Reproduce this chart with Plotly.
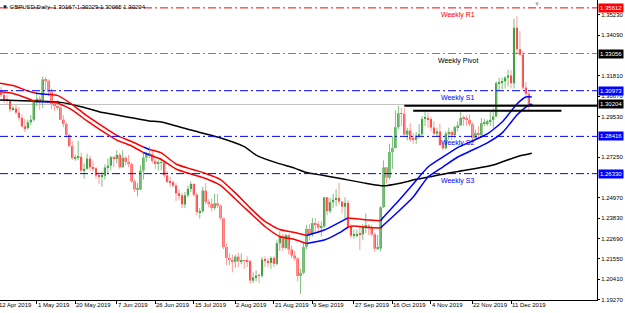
import plotly.graph_objects as go
import pandas as pd

# ---------------- data ----------------
dates = pd.bdate_range("2019-04-12", "2019-12-20")

opens = [
    # Apr 12 - Apr 30
    1.3070, 1.3087, 1.3073, 1.3046, 1.3041, 1.2993, 1.2998, 1.2975, 1.2945, 1.2898, 1.2888, 1.2920, 1.2935,
    # May
    1.3038, 1.3053, 1.3042, 1.3160, 1.3153, 1.3091, 1.3023, 1.3011, 1.3004, 1.2935, 1.2911, 1.2850, 1.2787,
    1.2720, 1.2722, 1.2727, 1.2650, 1.2660, 1.2717, 1.2668, 1.2663, 1.2622, 1.2618,
    # Jun
    1.2621, 1.2667, 1.2678, 1.2725, 1.2715, 1.2738, 1.2669, 1.2722, 1.2699, 1.2686, 1.2590, 1.2545, 1.2545,
    1.2650, 1.2723, 1.2742, 1.2743, 1.2704, 1.2687, 1.2693,
    # Jul
    1.2696, 1.2623, 1.2587, 1.2585, 1.2566, 1.2523, 1.2512, 1.2461, 1.2512, 1.2547, 1.2575, 1.2515, 1.2418,
    1.2421, 1.2538, 1.2475, 1.2464, 1.2440, 1.2467, 1.2453, 1.2383, 1.2222, 1.2161,
    # Aug
    1.2150, 1.2139, 1.2168, 1.2142, 1.2146, 1.2144, 1.2143, 1.2034, 1.2052, 1.2062, 1.2061, 1.2151, 1.2144,
    1.2133, 1.2161, 1.2128, 1.2243, 1.2278, 1.2217, 1.2288, 1.2208, 1.2174,
    # Sep
    1.2158, 1.2060, 1.2078, 1.2222, 1.2323, 1.2291, 1.2356, 1.2350, 1.2330, 1.2337, 1.2500, 1.2423, 1.2473,
    1.2487, 1.2497, 1.2476, 1.2448, 1.2469, 1.2333, 1.2286, 1.2288,
    # Oct
    1.2295, 1.2293, 1.2339, 1.2342, 1.2331, 1.2293, 1.2213, 1.2214, 1.2445, 1.2668, 1.2610, 1.2754, 1.2776,
    1.2893, 1.2971, 1.2968, 1.2852, 1.2874, 1.2824, 1.2823, 1.2846, 1.2854, 1.2939,
    # Nov
    1.2945, 1.2938, 1.2891, 1.2857, 1.2869, 1.2793, 1.2775, 1.2857, 1.2866, 1.2849, 1.2893, 1.2903, 1.2945,
    1.2944, 1.2935, 1.2910, 1.2831, 1.2860, 1.2850, 1.2916, 1.2916,
    # Dec
    1.2926, 1.2934, 1.2953, 1.3140, 1.3146, 1.3150, 1.3170, 1.3183, 1.3139, 1.3450, 1.3330, 1.3300, 1.3115,
    1.3080, 1.30167,
]
highs = [
    1.3132, 1.3120, 1.3090, 1.3073, 1.3050, 1.3012, 1.3020, 1.3006, 1.2965, 1.2940, 1.2935, 1.2960, 1.3050,
    1.3080, 1.3069, 1.3176, 1.3175, 1.3160, 1.3110, 1.3028, 1.3045, 1.3009, 1.2960, 1.2920, 1.2855, 1.2815,
    1.2740, 1.2815, 1.2750, 1.2690, 1.2745, 1.2735, 1.2705, 1.2670, 1.2640, 1.2645,
    1.2685, 1.2716, 1.2734, 1.2730, 1.2763, 1.2750, 1.2763, 1.2730, 1.2738, 1.2694, 1.2600, 1.2580, 1.2680,
    1.2750, 1.2754, 1.2783, 1.2765, 1.2720, 1.2710, 1.2720,
    1.2712, 1.2647, 1.2615, 1.2595, 1.2580, 1.2543, 1.2525, 1.2530, 1.2565, 1.2590, 1.2580, 1.2525, 1.2440,
    1.2560, 1.2580, 1.2490, 1.2495, 1.2520, 1.2520, 1.2460, 1.2385, 1.2240, 1.2186,
    1.2180, 1.2180, 1.2190, 1.2186, 1.2150, 1.2170, 1.2150, 1.2080, 1.2090, 1.2075, 1.2165, 1.2170, 1.2160,
    1.2170, 1.2170, 1.2260, 1.2310, 1.2295, 1.2295, 1.2295, 1.2230, 1.2200,
    1.2165, 1.2100, 1.2250, 1.2345, 1.2350, 1.2384, 1.2384, 1.2367, 1.2365, 1.2500, 1.2500, 1.2497, 1.2520,
    1.2546, 1.2582, 1.2480, 1.2500, 1.2485, 1.2350, 1.2320, 1.2320,
    1.2340, 1.2350, 1.2410, 1.2350, 1.2345, 1.2300, 1.2290, 1.2450, 1.2707, 1.2668, 1.2800, 1.2843, 1.2988,
    1.3012, 1.3000, 1.3000, 1.2890, 1.2915, 1.2860, 1.2865, 1.2910, 1.2955, 1.2978,
    1.2975, 1.2950, 1.2927, 1.2890, 1.2913, 1.2815, 1.2870, 1.2890, 1.2875, 1.2900, 1.2925, 1.2985, 1.2958,
    1.2958, 1.2965, 1.2920, 1.2880, 1.2900, 1.2945, 1.2940, 1.2935,
    1.2980, 1.3000, 1.3150, 1.3170, 1.3170, 1.3180, 1.3215, 1.3214, 1.3500, 1.3514, 1.3430, 1.3320, 1.3145,
    1.3090, 1.30229,
]
lows = [
    1.3060, 1.3060, 1.3030, 1.3025, 1.2978, 1.2985, 1.2965, 1.2930, 1.2890, 1.2866, 1.2880, 1.2905, 1.2925,
    1.3010, 1.2990, 1.3000, 1.3100, 1.3066, 1.2995, 1.2985, 1.2990, 1.2934, 1.2893, 1.2835, 1.2780, 1.2710,
    1.2705, 1.2708, 1.2640, 1.2605, 1.2655, 1.2650, 1.2645, 1.2605, 1.2575, 1.2559,
    1.2600, 1.2630, 1.2650, 1.2670, 1.2690, 1.2660, 1.2665, 1.2680, 1.2670, 1.2580, 1.2530, 1.2506, 1.2540,
    1.2600, 1.2700, 1.2720, 1.2690, 1.2660, 1.2650, 1.2652,
    1.2610, 1.2580, 1.2559, 1.2554, 1.2480, 1.2485, 1.2440, 1.2440, 1.2500, 1.2530, 1.2505, 1.2400, 1.2382,
    1.2415, 1.2460, 1.2445, 1.2420, 1.2430, 1.2440, 1.2375, 1.2210, 1.2120, 1.2120,
    1.2080, 1.2105, 1.2110, 1.2125, 1.2100, 1.2110, 1.2015, 1.2020, 1.2030, 1.2020, 1.2050, 1.2110, 1.2110,
    1.2100, 1.2110, 1.2120, 1.2200, 1.2200, 1.2210, 1.2180, 1.2160, 1.2145,
    1.2030, 1.1959, 1.2070, 1.2210, 1.2260, 1.2280, 1.2305, 1.2300, 1.2280, 1.2330, 1.2400, 1.2410, 1.2440,
    1.2450, 1.2460, 1.2410, 1.2380, 1.2320, 1.2270, 1.2270, 1.2275,
    1.2205, 1.2260, 1.2300, 1.2290, 1.2280, 1.2195, 1.2205, 1.2200, 1.2440, 1.2580, 1.2600, 1.2660, 1.2775,
    1.2880, 1.2900, 1.2845, 1.2820, 1.2810, 1.2800, 1.2800, 1.2830, 1.2845, 1.2900,
    1.2890, 1.2870, 1.2850, 1.2840, 1.2790, 1.2765, 1.2770, 1.2820, 1.2820, 1.2830, 1.2870, 1.2900, 1.2900,
    1.2900, 1.2900, 1.2810, 1.2820, 1.2825, 1.2845, 1.2900, 1.2900,
    1.2900, 1.2890, 1.2950, 1.3095, 1.3105, 1.3110, 1.3120, 1.3110, 1.3110, 1.3300, 1.3290, 1.3100, 1.3055,
    1.2990, 1.30065,
]
closes = opens[1:] + [1.30204]

tick_dates = ["2019-04-12", "2019-05-01", "2019-05-20", "2019-06-07", "2019-06-26", "2019-07-15",
              "2019-08-02", "2019-08-21", "2019-09-09", "2019-09-27", "2019-10-16", "2019-11-04",
              "2019-11-22", "2019-12-11"]
tick_text = ["12 Apr 2019", "1 May 2019", "20 May 2019", "7 Jun 2019", "26 Jun 2019", "15 Jul 2019",
             "2 Aug 2019", "21 Aug 2019", "9 Sep 2019", "27 Sep 2019", "16 Oct 2019", "4 Nov 2019",
             "22 Nov 2019", "11 Dec 2019"]

# channel (two trend lines) at bar positions
ch_idx = [0, 5, 10, 12.5, 15, 17.5, 20, 25, 30, 35, 40, 45, 49, 51, 55, 60, 65, 70, 75, 80, 85, 90, 95,
          100, 104, 110, 115, 118, 120, 125, 129, 130, 135, 140, 145, 150, 155, 160, 165, 170, 175, 178, 180]
ch_upper = [1.3141, 1.3126, 1.3096, 1.3085, 1.3079, 1.3076, 1.3071, 1.3020, 1.2956, 1.2900, 1.2847, 1.2813,
            1.2782, 1.2768, 1.2749, 1.2687, 1.2659, 1.2634, 1.2600, 1.2525, 1.2441, 1.2365, 1.2320, 1.2303,
            1.2287, 1.2317, 1.2359, 1.2385, 1.2382, 1.2373, 1.2369, 1.2390, 1.2480, 1.2575, 1.2670, 1.2726,
            1.2779, 1.2816, 1.2855, 1.2922, 1.3023, 1.3062, 1.3062]
ch_lower = [1.3092, 1.3082, 1.3054, 1.3036, 1.3036, 1.3034, 1.3029, 1.2989, 1.2928, 1.2872, 1.2821, 1.2788,
            1.2751, 1.2737, 1.2712, 1.2659, 1.2631, 1.2606, 1.2567, 1.2491, 1.2413, 1.2337, 1.2281, 1.2264,
            1.2242, 1.2261, 1.2301, 1.2334, 1.2340, 1.2331, 1.2329, 1.2345, 1.2421, 1.2502, 1.2614, 1.2670,
            1.2726, 1.2765, 1.2805, 1.2861, 1.2961, 1.3006, 1.3023]
trend_breaks = [0, 12.5, 17.5, 49, 51, 104, 118, 129, 180]
trend_colors = ["#FF0000", "#0000FF", "#FF0000", "#0000FF", "#FF0000", "#0000FF", "#FF0000", "#0000FF"]

# slow moving average (black)
ma_idx = [0, 11, 21, 28, 34, 40, 46, 51, 55, 65, 74, 83, 87, 94, 100, 104, 109, 115, 124, 130, 136, 141,
          147, 152, 158, 167, 175, 180]
ma_val = [1.3045, 1.3040, 1.3032, 1.3008, 1.2980, 1.2961, 1.2943, 1.2928, 1.2922, 1.2877, 1.2838, 1.2784,
          1.2737, 1.2693, 1.2664, 1.2639, 1.2625, 1.2607, 1.2579, 1.2565, 1.2581, 1.2601, 1.2620, 1.2637,
          1.2653, 1.2681, 1.2728, 1.2747]

pivot_levels = [1.35612, 1.33056, 1.30973, 1.28416, 1.26330]
pivot_names = ["Weekly R1", "Weekly Pivot", "Weekly S1", "Weekly S2", "Weekly S3"]
pivot_colors = ["#FF0000", "#808080", "#0000FF", "#0000FF", "#0000FF"]
pivot_text_colors = ["#FF0000", "#000000", "#0000FF", "#0000FF", "#0000FF"]
pivot_box_colors = ["#FF0000", "#000000", "#0000FF", "#0000FF", "#0000FF"]

bid_price = 1.30204
user_lines = [(137, 202.5, 1.3013), (140, 190, 1.2985)]

# price scale labels (those hidden under the level boxes are omitted)
y_ticks = [1.35230, 1.34090, 1.31810, 1.30670, 1.29530, 1.27250,
           1.24970, 1.23830, 1.22690, 1.21550, 1.20410, 1.19270]

title_text = "GBPUSD,Daily  1.30167 1.30229 1.30065 1.30204"

# ---------------- figure ----------------
n = len(dates)
assert len(opens) == n and len(highs) == n and len(lows) == n
idx = list(range(n))
FONT = "Liberation Sans"
X_RANGE = [0.62, 202.0]

fig = go.Figure()

# wicks
for bull, col in [(True, "#7FC07F"), (False, "#FF9A9A")]:
    xs, ys = [], []
    for i in idx:
        if (closes[i] >= opens[i]) == bull:
            xs += [i, i, None]
            ys += [lows[i], highs[i], None]
    fig.add_trace(go.Scatter(x=xs, y=ys, mode="lines", line=dict(color=col, width=1),
                             hoverinfo="skip", showlegend=False))

# bodies
body_base = [min(o, c) for o, c in zip(opens, closes)]
body_h = [max(abs(c - o), 0.0004) for o, c in zip(opens, closes)]
body_col = ["#008000" if c >= o else "#FF0000" for o, c in zip(opens, closes)]
fig.add_trace(go.Bar(x=idx, y=body_h, base=body_base, width=0.7, marker=dict(color=body_col, line=dict(width=0)),
                     hoverinfo="skip", showlegend=False))

# slow MA
fig.add_trace(go.Scatter(x=ma_idx, y=ma_val, mode="lines", line=dict(color="#000000", width=1.5, shape="spline", smoothing=0.6),
                         hoverinfo="skip", showlegend=False))

# channel lines coloured by trend
for k in range(len(trend_colors)):
    a, b = trend_breaks[k], trend_breaks[k + 1]
    sel = [j for j, v in enumerate(ch_idx) if a <= v <= b]
    for arr in (ch_upper, ch_lower):
        fig.add_trace(go.Scatter(x=[ch_idx[j] for j in sel], y=[arr[j] for j in sel], mode="lines",
                                 line=dict(color=trend_colors[k], width=1.5, shape="spline", smoothing=0.5),
                                 hoverinfo="skip", showlegend=False))

shapes = []
# bid line
shapes.append(dict(type="line", xref="paper", x0=0, x1=1, yref="y", y0=bid_price, y1=bid_price,
                   line=dict(color="#C0C0C0", width=1), layer="below"))
# pivot lines
for lv, col in zip(pivot_levels, pivot_colors):
    shapes.append(dict(type="line", xref="paper", x0=0, x1=1, yref="y", y0=lv, y1=lv,
                       line=dict(color=col, width=1, dash="8px,3px,2px,3px")))
# user drawn black lines
for x0, x1, lv in user_lines:
    shapes.append(dict(type="line", xref="x", x0=x0, x1=x1, yref="y", y0=lv, y1=lv,
                       line=dict(color="#000000", width=2)))

annotations = []
for lv, name, tc in zip(pivot_levels, pivot_names, pivot_text_colors):
    annotations.append(dict(x=155.1, xref="x", y=lv, yref="y", text=name, showarrow=False,
                            xanchor="center", yanchor="top", yshift=-1,
                            font=dict(family=FONT, size=7, color=tc)))
box_levels = pivot_levels + [bid_price]
box_colors = pivot_box_colors + ["#000000"]
for lv, bc in zip(box_levels, box_colors):
    annotations.append(dict(x=1, xref="paper", y=lv, yref="y", text=f"{lv:.5f}", showarrow=False,
                            xanchor="left", yanchor="middle", xshift=1,
                            font=dict(family=FONT, size=6, color="#FFFFFF"),
                            bgcolor=bc, borderpad=1))
annotations.append(dict(x=0, xref="paper", y=1, yref="paper", text="▼ " + title_text, showarrow=False,
                        xanchor="left", yanchor="top", xshift=0, yshift=-2,
                        font=dict(family=FONT, size=6, color="#000000")))
annotations.append(dict(x=181.8, xref="x", y=1, yref="paper", text="▼", showarrow=False,
                        xanchor="center", yanchor="top", yshift=1,
                        font=dict(family=FONT, size=6, color="#A8A8A8")))

tick_pos = [list(dates).index(pd.Timestamp(d)) for d in tick_dates]
# date labels: left-aligned just right of each tick mark
plot_w = 597.0
for tp, tt in zip(tick_pos, tick_text):
    frac = (tp - X_RANGE[0]) / (X_RANGE[1] - X_RANGE[0])
    annotations.append(dict(x=frac, xref="paper", y=0, yref="paper", text=tt, showarrow=False,
                            xanchor="left", yanchor="top", xshift=-1, yshift=0,
                            font=dict(family=FONT, size=6, color="#000000")))

fig.update_layout(
    width=625, height=313,
    margin=dict(l=0, r=28, t=0, b=13, autoexpand=False),
    paper_bgcolor="#FFFFFF", plot_bgcolor="#FFFFFF",
    showlegend=False, barmode="overlay",
    shapes=shapes, annotations=annotations,
    font=dict(family=FONT, size=6, color="#000000"),
    xaxis=dict(range=X_RANGE, tickvals=tick_pos, showticklabels=False, showgrid=False, zeroline=False,
               showline=True, linecolor="#000000", linewidth=1, ticks="outside", ticklen=3,
               tickcolor="#000000", automargin=False, fixedrange=True),
    yaxis=dict(range=[1.19253, 1.36053], side="right", tickvals=y_ticks, automargin=False,
               ticktext=[f"{v:.5f}" for v in y_ticks], showgrid=False, zeroline=False,
               showline=True, linecolor="#000000", linewidth=1, ticks="outside", ticklen=2,
               tickcolor="#000000", tickfont=dict(family=FONT, size=6, color="#000000"), fixedrange=True),
)

fig.write_html("out.html")
